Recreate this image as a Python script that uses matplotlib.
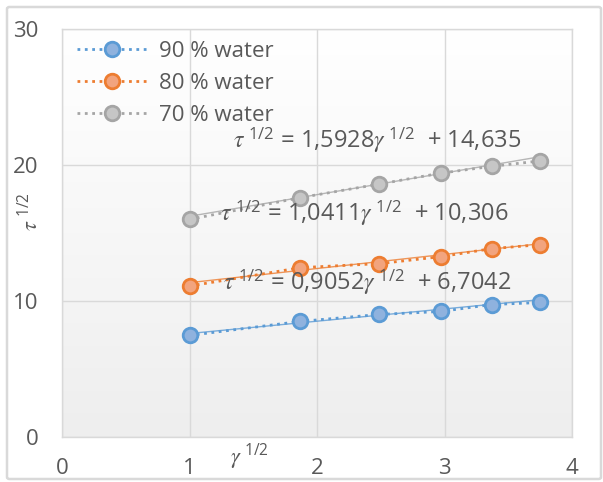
import numpy as np
import matplotlib
matplotlib.use("Agg")
import matplotlib.pyplot as plt
from matplotlib.patches import FancyBboxPatch
from matplotlib.colors import LinearSegmentedColormap

plt.rcParams['font.family'] = ['Open Sans', 'DejaVu Sans']
plt.rcParams['mathtext.fontset'] = 'stix'

# square root of shear rate (x) and square root of shear stress (y)
gamma_sqrt = [1.0, 1.87, 2.49, 2.97, 3.37, 3.75]
tau_90 = [7.47, 8.50, 9.01, 9.23, 9.74, 9.89]
tau_80 = [11.1, 12.45, 12.75, 13.26, 13.85, 14.14]
tau_70 = [16.0, 17.6, 18.6, 19.4, 19.9, 20.3]

series_labels = ["90 % water", "80 % water", "70 % water"]
# linear fits: slope, intercept
fit_slopes = [0.9052, 1.0411, 1.5928]
fit_intercepts = [6.7042, 10.306, 14.635]
fit_slope_text = ["0,9052", "1,0411", "1,5928"]
fit_intercept_text = ["6,7042", "10,306", "14,635"]

x_ticks = [0, 1, 2, 3, 4]
y_ticks = [0, 10, 20, 30]

edge_colors = ['#5b9bd5', '#ed7d31', '#a5a5a5']
face_colors = ['#8fb2de', '#f2a47e', '#c6c6c6']
text_color = '#595959'
grid_color = '#d9d9d9'

fig = plt.figure(figsize=(6.03, 4.82), dpi=100)
ax = fig.add_axes([62 / 603, 45 / 482, 510 / 603, 408 / 482])

# chart frame
frame = FancyBboxPatch((7 / 603, 3 / 482), 594 / 603, 472 / 482,
                       boxstyle="round,pad=0,rounding_size=0.004",
                       transform=fig.transFigure, facecolor='none',
                       edgecolor='#d9d9d9', linewidth=1.8, zorder=0)
fig.patches.append(frame)

# plot-area gradient (white at top, light grey at the bottom)
cmap = LinearSegmentedColormap.from_list('bg', ['#eeeeee', '#f7f7f7', '#ffffff'])
grad = np.linspace(0, 1, 256).reshape(-1, 1)
ax.imshow(grad, extent=[0, 1, 0, 1], transform=ax.transAxes, aspect='auto',
          cmap=cmap, origin='lower', zorder=0)

ax.set_xlim(0, 4)
ax.set_ylim(0, 30)
ax.set_xticks(x_ticks)
ax.set_yticks(y_ticks)
ax.grid(True, color=grid_color, linewidth=1.0, zorder=1)
for s in ax.spines.values():
    s.set_color(grid_color)
    s.set_linewidth(1.0)
ax.tick_params(length=0, labelsize=16, labelcolor=text_color)
ax.tick_params(axis='x', pad=15)
ax.tick_params(axis='y', pad=17)

handles = []
for i, ys in enumerate([tau_90, tau_80, tau_70]):
    # fitted line
    xf = np.array([gamma_sqrt[0], gamma_sqrt[-1]])
    ax.plot(xf, fit_slopes[i] * xf + fit_intercepts[i], '-', color=edge_colors[i],
            linewidth=1.0, alpha=0.8, zorder=3)
    h, = ax.plot(gamma_sqrt, ys, linestyle=':', linewidth=2.0, color=edge_colors[i],
                 marker='o', markersize=10.5, markerfacecolor=face_colors[i],
                 markeredgecolor=edge_colors[i], markeredgewidth=2.0,
                 label=series_labels[i], zorder=4)
    handles.append(h)

leg = ax.legend(handles=handles, loc='upper left', bbox_to_anchor=(0.012, 0.992),
                frameon=False, fontsize=16, handlelength=3.15, handletextpad=0.54,
                labelspacing=0.49, borderaxespad=0.1, borderpad=0.3)
for t in leg.get_texts():
    t.set_color(text_color)

eq_pos = [(367, 282), (364, 213), (377, 140)]
for i in range(3):
    s = (r"$\tau^{\ \mathregular{1/2}}$" + " = " + fit_slope_text[i]
         + r"$\gamma^{\ \mathregular{1/2}}$" + "  + " + fit_intercept_text[i])
    px, py = eq_pos[i]
    fig.text(px / 603, 1 - py / 482, s, ha='center', va='center', fontsize=17,
             color=text_color, zorder=6)

fig.text(249 / 603, 1 - 456 / 482, r"$\gamma^{\ \mathregular{1/2}}$",
         ha='center', va='center', fontsize=16, color=text_color)
fig.text(30 / 603, 1 - 212 / 482, r"$\tau^{\ \mathregular{1/2}}$",
         ha='center', va='center', fontsize=16, color=text_color, rotation=90)

fig.savefig("out.png", dpi=100)
